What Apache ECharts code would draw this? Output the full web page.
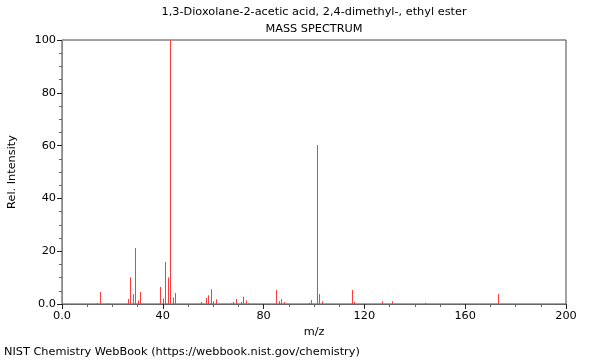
<!DOCTYPE html>
<html>
<head>
<meta charset="utf-8">
<script src="https://cdn.jsdelivr.net/npm/echarts@6/dist/echarts.min.js"></script>
<style>html,body{margin:0;padding:0;background:#fff}#c{width:600px;height:360px}</style>
</head>
<body>
<div id="c"></div>
<script>
const mz = [14, 15, 18, 26, 27, 28, 29, 30, 31, 39, 40, 41, 42, 43, 44, 45, 55, 57, 58, 59, 60, 61, 67, 68, 69, 71, 72, 73, 74, 85, 86, 87, 88, 98, 99, 101, 102, 103, 115, 116, 127, 131, 144, 173];
const intensity = [0.3, 4.5, 0.3, 1.9, 10.1, 3.8, 21.2, 1.3, 4.5, 6.4, 2.1, 15.9, 10.0, 100, 2.5, 4.2, 0.8, 2.3, 3.3, 5.6, 1.0, 1.8, 0.3, 0.8, 1.9, 0.8, 2.7, 1.3, 0.3, 5.3, 1.0, 1.8, 0.8, 0.5, 1.5, 60.2, 3.8, 1.0, 5.3, 0.8, 0.9, 1.0, 0.5, 3.8];
const titleMain = "1,3-Dioxolane-2-acetic acid, 2,4-dimethyl-, ethyl ester";
const titleSub = "MASS SPECTRUM";
const xName = "m/z";
const yName = "Rel. Intensity";
const footer = "NIST Chemistry WebBook (https://webbook.nist.gov/chemistry)";

const chart = echarts.init(document.getElementById('c'), null, {renderer: 'canvas'});
const font = 'DejaVu Sans';
const fs = 11.3;
const peakColor = '#ff3b3b';
chart.setOption({
  animation: false,
  textStyle: {fontFamily: font},
  title: [
    {text: titleMain, left: 314, top: 7, padding: 0, textAlign: 'center', textStyle: {fontSize: fs, fontWeight: 'normal', color: '#000', fontFamily: font}},
    {text: titleSub, left: 314, top: 24, padding: 0, textAlign: 'center', textStyle: {fontSize: fs, fontWeight: 'normal', color: '#000', fontFamily: font}},
    {text: footer, left: 4, top: 347, padding: 0, textStyle: {fontSize: fs, fontWeight: 'normal', color: '#000', fontFamily: font}}
  ],
  grid: {left: 62, right: 34, top: 40, bottom: 56, containLabel: false, outerBoundsMode: 'none',
    show: true, borderColor: '#444', borderWidth: 1, backgroundColor: 'transparent'},
  xAxis: {
    type: 'value', min: 0, max: 200, interval: 40,
    name: xName, nameLocation: 'middle', nameGap: 22,
    nameTextStyle: {fontSize: fs, color: '#000', fontFamily: font},
    axisLine: {show: true, lineStyle: {color: '#666'}},
    axisTick: {show: true, length: 5, inside: false, lineStyle: {color: '#222'}},
    minorTick: {show: true, splitNumber: 4, length: 3, lineStyle: {color: '#666'}},
    splitLine: {show: false},
    axisLabel: {fontSize: fs, color: '#000', margin: 7, fontFamily: font,
      formatter: v => v === 0 ? '0.0' : String(v)}
  },
  yAxis: {
    type: 'value', min: 0, max: 100, interval: 20,
    name: yName, nameLocation: 'middle', nameGap: 44, nameRotate: 90,
    nameTextStyle: {fontSize: fs, color: '#000', fontFamily: font},
    axisLine: {show: true, lineStyle: {color: '#888'}},
    axisTick: {show: true, length: 5, lineStyle: {color: '#222'}},
    minorTick: {show: true, splitNumber: 4, length: 3, lineStyle: {color: '#666'}},
    splitLine: {show: false},
    axisLabel: {fontSize: fs, color: '#000', margin: 6, fontFamily: font,
      formatter: v => v === 0 ? '0.0' : String(v)}
  },
  series: [{
    type: 'custom',
    silent: true,
    itemStyle: {color: peakColor},
    emphasis: {disabled: true},
    data: mz.map((m, i) => [m, intensity[i]]),
    renderItem: function (params, api) {
      const p0 = api.coord([api.value(0), 0]);
      const p1 = api.coord([api.value(0), api.value(1)]);
      const x = Math.round(p0[0]);
      return {type: 'rect', shape: {x: x, y: p1[1], width: 1, height: p0[1] - p1[1]},
        style: {fill: peakColor, stroke: null}};
    }
  }]
});
</script>
</body>
</html>
